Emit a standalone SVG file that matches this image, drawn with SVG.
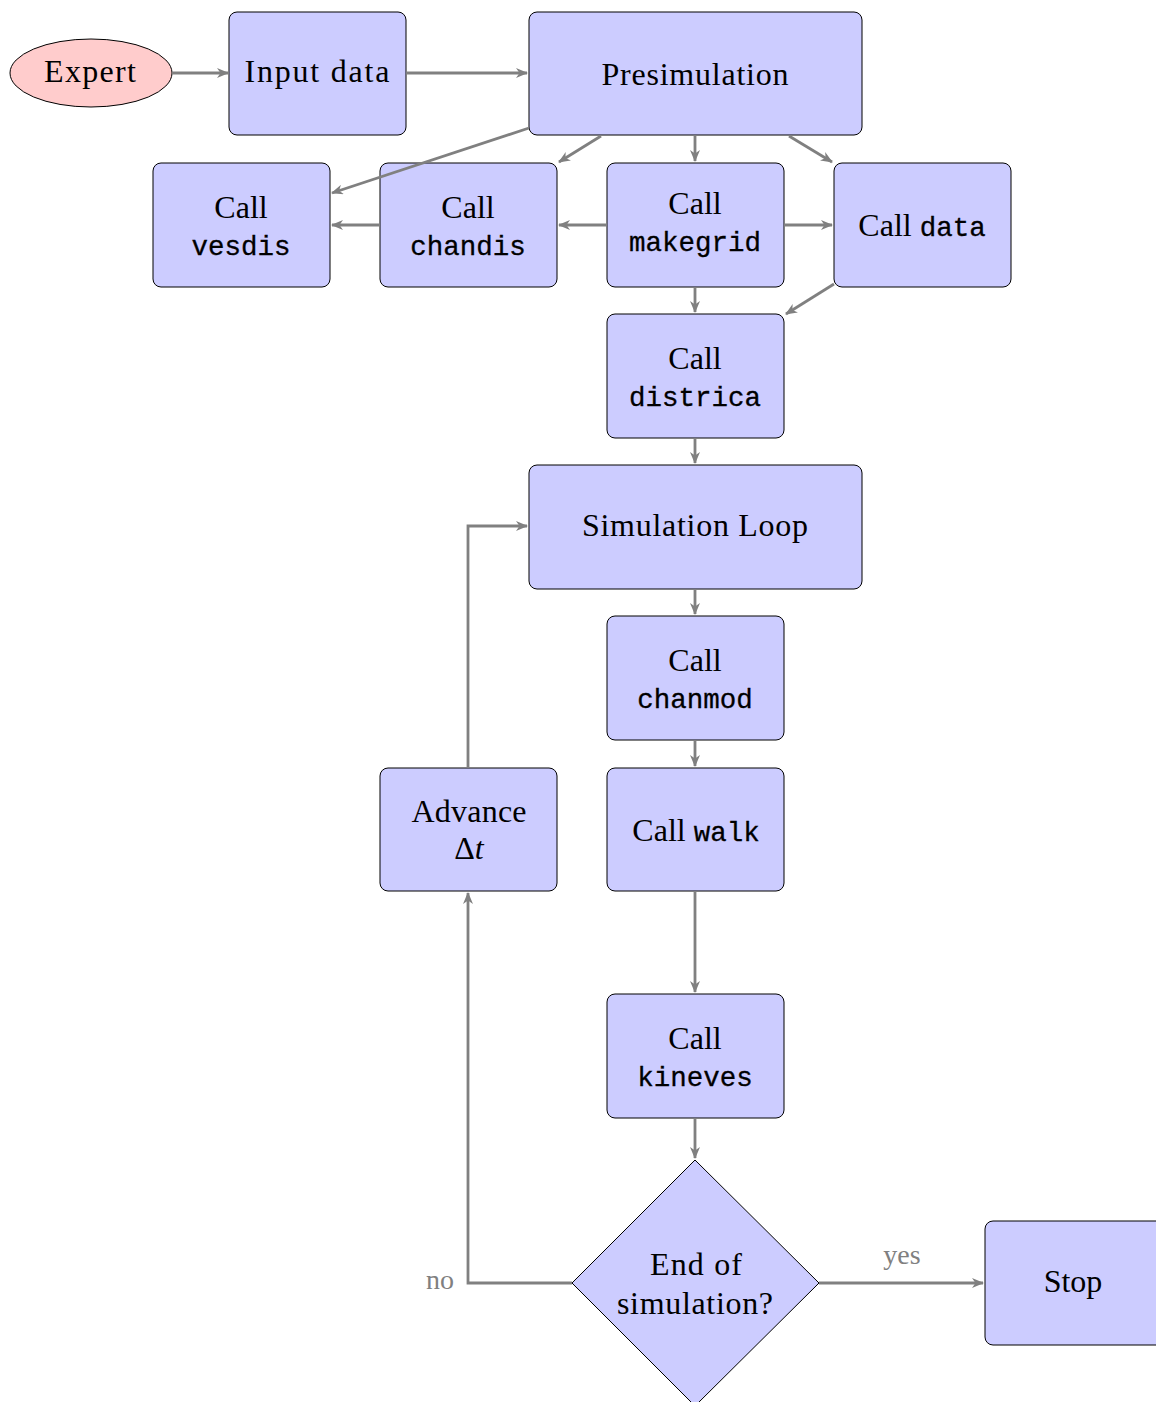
<svg xmlns="http://www.w3.org/2000/svg" width="1156" height="1402" viewBox="0 0 1156 1402">
<style>
.box{fill:#ccccff;stroke:#000;stroke-width:1}
.ell{fill:#ffcccc;stroke:#000;stroke-width:1}
.t{font-family:"Liberation Serif","Times New Roman",serif;font-size:32px;fill:#000;text-anchor:middle}
.m{font-family:"Liberation Mono","Courier New",monospace;font-size:27.5px;stroke:#000;stroke-width:0.3}
.lbl{font-family:"Liberation Serif","Times New Roman",serif;font-size:28px;fill:#808080;text-anchor:middle}
.c{fill:none;stroke:#808080;stroke-width:2.8;marker-end:url(#ah)}
</style>
<defs>
<marker id="ah" viewBox="0 0 12 10" refX="11" refY="5" markerWidth="12" markerHeight="10" markerUnits="userSpaceOnUse" orient="auto">
<path d="M0,0 L12,5 L0,10 L3.5,5 z" fill="#808080"/>
</marker>
</defs>
<g id="expert">
<ellipse class="ell" cx="91" cy="73" rx="81" ry="34"/>
<text class="t" x="90" y="82" textLength="92" lengthAdjust="spacing">Expert</text>
</g>
<g id="input">
<rect class="box" x="229" y="12" width="177" height="123" rx="8"/>
<text class="t" x="317" y="82" textLength="145" lengthAdjust="spacing">Input data</text>
</g>
<g id="presim">
<rect class="box" x="529" y="12" width="333" height="123" rx="8"/>
<text class="t" x="695" y="85" textLength="187" lengthAdjust="spacing">Presimulation</text>
</g>
<g id="vesdis">
<rect class="box" x="153" y="163" width="177" height="124" rx="8"/>
<text class="t" x="241" y="218">Call</text>
<text class="t m" x="241" y="255">vesdis</text>
</g>
<g id="chandis">
<rect class="box" x="380" y="163" width="177" height="124" rx="8"/>
<text class="t" x="468" y="218">Call</text>
<text class="t m" x="468" y="255">chandis</text>
</g>
<g id="makegrid">
<rect class="box" x="607" y="163" width="177" height="124" rx="8"/>
<text class="t" x="695" y="214">Call</text>
<text class="t m" x="695" y="251">makegrid</text>
</g>
<g id="data">
<rect class="box" x="834" y="163" width="177" height="124" rx="8"/>
<text class="t" x="922" y="236">Call <tspan class="m">data</tspan></text>
</g>
<g id="districa">
<rect class="box" x="607" y="314" width="177" height="124" rx="8"/>
<text class="t" x="695" y="369">Call</text>
<text class="t m" x="695" y="406">districa</text>
</g>
<g id="simloop">
<rect class="box" x="529" y="465" width="333" height="124" rx="8"/>
<text class="t" x="695" y="536" textLength="226" lengthAdjust="spacing">Simulation Loop</text>
</g>
<g id="chanmod">
<rect class="box" x="607" y="616" width="177" height="124" rx="8"/>
<text class="t" x="695" y="671">Call</text>
<text class="t m" x="695" y="708">chanmod</text>
</g>
<g id="advance">
<rect class="box" x="380" y="768" width="177" height="123" rx="8"/>
<text class="t" x="469" y="822" textLength="115" lengthAdjust="spacing">Advance</text>
<text class="t" x="469" y="859">Δ<tspan font-style="italic">t</tspan></text>
</g>
<g id="walk">
<rect class="box" x="607" y="768" width="177" height="123" rx="8"/>
<text class="t" x="696" y="841">Call <tspan class="m">walk</tspan></text>
</g>
<g id="kineves">
<rect class="box" x="607" y="994" width="177" height="124" rx="8"/>
<text class="t" x="695" y="1049">Call</text>
<text class="t m" x="695" y="1086">kineves</text>
</g>
<g id="decision">
<path class="box" d="M695,1160 L819,1283 L695,1406 L572,1283 Z"/>
<text class="t" x="696" y="1275" textLength="92" lengthAdjust="spacing">End of</text>
<text class="t" x="695" y="1314" textLength="156" lengthAdjust="spacing">simulation?</text>
</g>
<g id="stop">
<rect class="box" x="985" y="1221" width="180" height="124" rx="8"/>
<text class="t" x="1073" y="1292">Stop</text>
</g>
<g id="connectors">
<path class="c" d="M172,73 L228,73"/>
<path class="c" d="M406,73 L527,73"/>
<path class="c" d="M529,128 L332,193"/>
<path class="c" d="M601,136 L559,162"/>
<path class="c" d="M695,136 L695,161"/>
<path class="c" d="M789,136 L832,162"/>
<path class="c" d="M607,225 L559,225"/>
<path class="c" d="M380,225 L332,225"/>
<path class="c" d="M784,225 L832,225"/>
<path class="c" d="M695,287 L695,312"/>
<path class="c" d="M834,284 L786,314"/>
<path class="c" d="M695,438 L695,463"/>
<path class="c" d="M695,589 L695,614"/>
<path class="c" d="M695,740 L695,766"/>
<path class="c" d="M695,891 L695,992"/>
<path class="c" d="M695,1118 L695,1158"/>
<path class="c" d="M819,1283 L983,1283"/>
<path class="c" d="M572,1283 L468,1283 L468,893"/>
<path class="c" d="M468,768 L468,526 L527,526"/>
<text class="lbl" x="902" y="1264">yes</text>
<text class="lbl" x="440" y="1289">no</text>
</g>
</svg>
